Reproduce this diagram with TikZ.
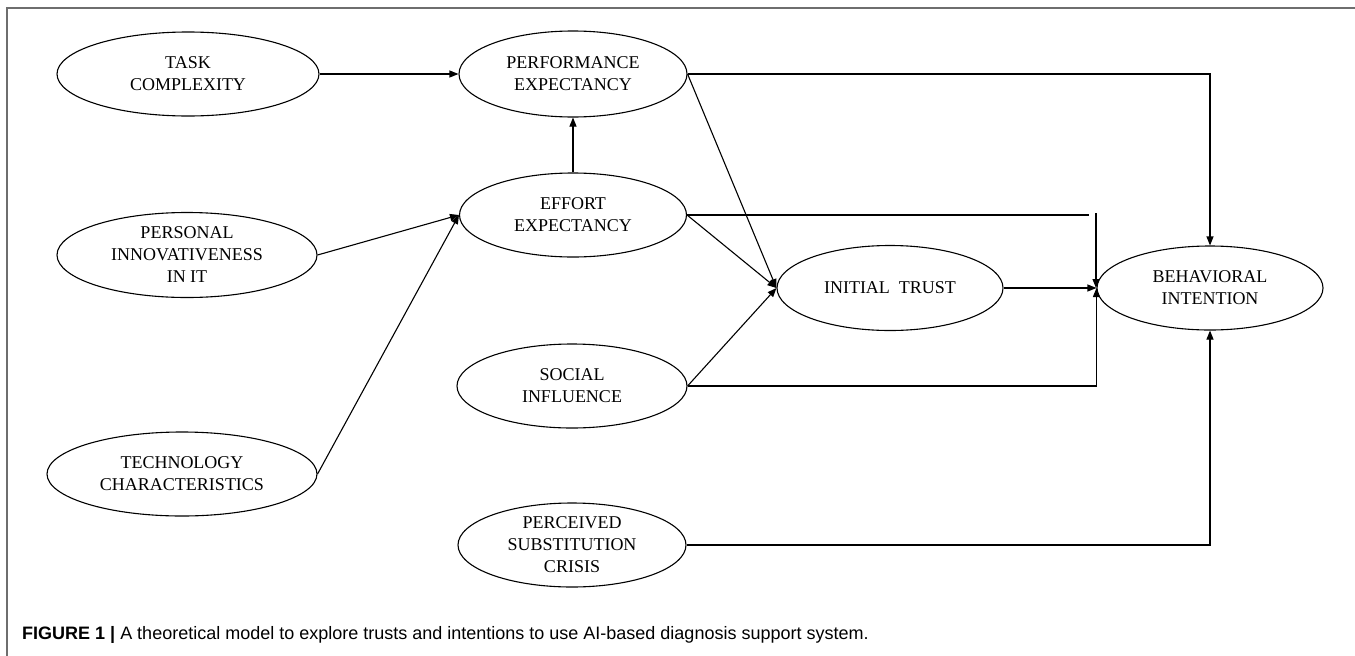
\documentclass[tikz,border=0pt]{standalone}
\usepackage{fontspec}
\setmainfont{Liberation Serif}
\newfontfamily\capfont{Liberation Sans}
\usetikzlibrary{shapes.geometric,arrows.meta,calc}
\definecolor{frameGray}{RGB}{110,110,110}
\tikzset{
  construct/.style={ellipse, draw=black, line width=1.1pt, inner sep=0pt, align=center,
    font=\fontsize{18}{22}\selectfont},
  link/.style={draw=black, line width=1.1pt, -{Triangle[length=9pt,width=7pt]}},
  plainlink/.style={draw=black, line width=1.1pt},
}
\begin{document}
\begin{tikzpicture}[x=1pt,y=-1pt]
\useasboundingbox (0,0) rectangle (1355,656);
\draw[frameGray, line width=1.5pt] (7,656) -- (7,8) -- (1355,8);

\node[construct, minimum width=262pt, minimum height=84pt] (TC) at (188,74) {TASK\\COMPLEXITY};
\node[construct, minimum width=228pt, minimum height=86pt] (PE) at (573,74) {PERFORMANCE\\EXPECTANCY};
\node[construct, minimum width=227pt, minimum height=84pt] (EE) at (573,215) {EFFORT\\EXPECTANCY};
\node[construct, minimum width=260pt, minimum height=85pt] (PII) at (187,255) {PERSONAL\\INNOVATIVENESS\\IN IT};
\node[construct, minimum width=270pt, minimum height=84pt] (TECH) at (182,474) {TECHNOLOGY\\CHARACTERISTICS};
\node[construct, minimum width=230pt, minimum height=84pt] (SI) at (572,386) {SOCIAL\\INFLUENCE};
\node[construct, minimum width=228pt, minimum height=84pt] (PSC) at (572,545) {PERCEIVED\\SUBSTITUTION\\CRISIS};
\node[construct, minimum width=226pt, minimum height=85pt] (IT) at (890,288) {INITIAL\ \ TRUST};
\node[construct, minimum width=226pt, minimum height=84pt] (BI) at (1210,288) {BEHAVIORAL\\INTENTION};

\coordinate (gapA) at (1089,215);
\coordinate (gapB) at (1096,213);

\draw[link] (TC.east) -- (PE.west);
\draw[link] (PE.east) -| (BI.north);
\draw[link] (PE.east) -- (IT.west);
\draw[link] (EE.north) -- (PE.south);
\draw[plainlink] (EE.east) -- (EE.east -| gapA);
\draw[link] (gapB) -- (gapB |- BI.west);
\draw[link] (EE.east) -- (IT.west);
\draw[link] (SI.east) -- (IT.west);
\draw[link] (SI.east) -| (BI.west);
\draw[link] (IT.east) -- (BI.west);
\draw[link] (PSC.east) -| (BI.south);
\draw[link] (PII.east) -- (EE.west);
\draw[link] (TECH.east) -- (EE.west);

\node[anchor=base west, inner sep=0pt, font=\capfont\fontsize{18}{22}\selectfont] (cap) at (22,639)
  {\textbf{FIGURE 1 |} A theoretical model to explore trusts and intentions to use AI-based diagnosis support system.};
\end{tikzpicture}
\end{document}
